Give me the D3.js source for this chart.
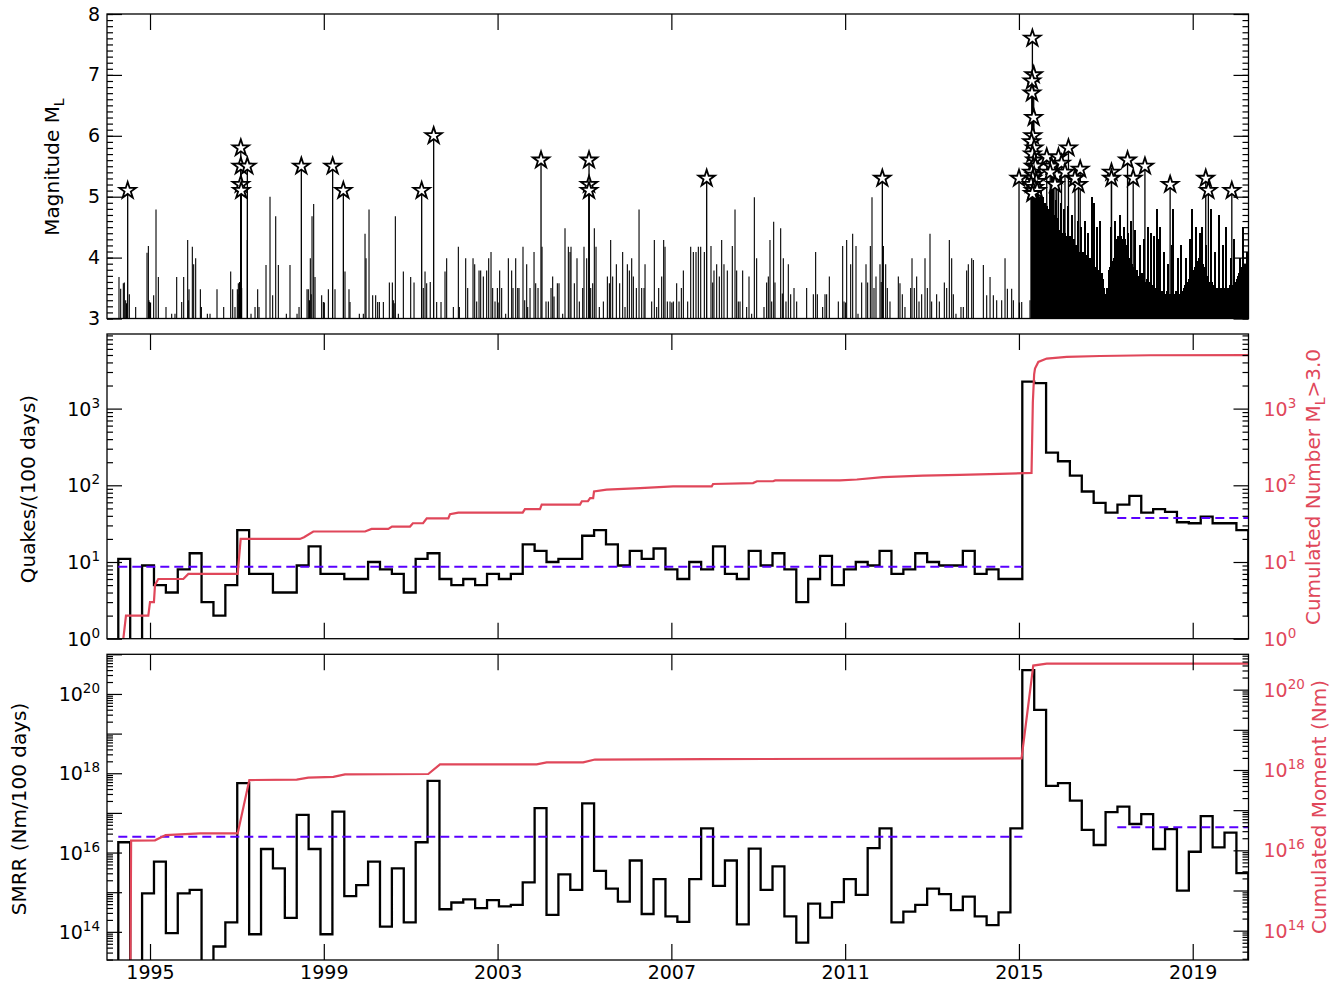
<!DOCTYPE html>
<html><head><meta charset="utf-8">
<script src="https://cdn.jsdelivr.net/npm/d3@7"></script>
<style>
body{margin:0;background:#fff;}
svg text{font-family:"DejaVu Sans",sans-serif;}
</style></head><body>
<svg id="chart" width="1344" height="986"></svg>
<script>
// ---------------- DATA ----------------
const xTickYears = [1995, 1999, 2003, 2007, 2011, 2015, 2019];
const magTicks = [3, 4, 5, 6, 7, 8];

// histogram: 100-day bins starting at binStart (decimal year)
const binStart = 1994.27;
const binDays = 100;
const quakesPerBin = [11,0,9,5,4,8,13,3,2,5,26,7,7,4,4,9,16,7,7,6,6,10,8,7,4,11,13,6,5,6,
  5,7,6,7,17,14,10,11,11,22,26,17,9,14,11,15,8,6,10,8,16,7,6,14,9,13,8,3,6,12,
  5,8,10,9,14,7,8,13,10,9,9,14,7,8,6,6,2250,2150,267,206,134,83,59,44,56,73,44,49,45,33,
  32,39,32,32,26,2];
// seismic moment release rate, log10(Nm / 100 days); null = no moment in bin
const smrrExp = [16.26,null,14.97,15.77,13.97,14.97,15.06,null,13.63,14.24,17.75,13.94,16.09,15.6,14.35,16.95,16.09,13.94,17.03,14.9,
  15.18,15.77,14.13,15.6,14.24,16.26,17.81,14.57,14.74,14.82,14.6,14.8,14.64,14.68,15.25,17.12,14.43,15.45,15.06,17.24,
  15.54,15.09,14.76,15.8,14.45,15.33,14.39,14.25,15.33,16.61,15.16,15.8,14.19,16.1,15.06,15.65,14.39,13.73,14.71,14.36,
  14.75,15.33,14.93,16.11,16.61,14.24,14.51,14.68,15.09,14.95,14.55,14.89,14.39,14.17,14.49,16.61,20.6,19.6,17.68,17.75,
  17.31,16.57,16.19,17.02,17.16,16.72,16.97,16.09,16.59,15.04,16.02,16.92,16.13,16.5,15.48,null];

// mean rate (dashed): [fromYear, toYear, value]
const meanQuakes = [[1994.27, 2015.078, 8.7], [2017.264, 2020.284, 37.5]];
const meanSmrrExp = [[1994.27, 2015.078, 16.4], [2017.264, 2020.284, 16.64]];

// cumulated number of events M_L>3.0: [year, count]
const cumNumber = [[1994.386,1],[1994.447,2],[1994.961,2],[1995.0,3],[1995.09,3],[1995.115,5],[1995.19,6],[1995.767,6],[1995.882,7],
  [1997.018,7],[1997.087,20],[1998.45,20],[1998.545,21],[1998.759,25],[1999.95,25],[2000.10,27],[2000.485,27],[2000.57,29],
  [2000.985,29],[2001.05,32],[2001.285,32],[2001.37,37],[2001.866,37],[2001.905,42],[2002.096,44],[2003.578,44],[2003.63,49],
  [2003.977,49],[2004.016,56],[2004.897,56],[2004.94,62],[2005.08,62],[2005.13,68],[2005.2,68],[2005.22,83],[2005.51,88],
  [2006.28,92],[2007.04,97],[2007.93,97],[2007.96,104],[2008.88,107],[2008.97,113],[2009.34,113],[2009.39,116],[2010.88,116],
  [2011.27,119],[2011.87,128],[2012.79,134],[2013.64,137],[2014.56,141],[2015.29,145],[2015.32,1200],[2015.35,2800],
  [2015.37,3320],[2015.446,4060],[2015.64,4490],[2016.10,4720],[2016.866,4850],[2018.017,4960],[2020.28,4990]];

// cumulated seismic moment, log10(Nm): [year, exponent]
const cumMomentExp = [[1994.55,13.0],[1994.565,16.24],[1995.115,16.25],[1995.36,16.38],[1996.15,16.42],[1997.018,16.42],
  [1997.286,17.75],[1998.377,17.76],[1998.643,17.81],[1999.22,17.83],[1999.488,17.89],[2001.405,17.9],[2001.675,18.14],
  [2003.9,18.14],[2004.13,18.19],[2004.97,18.19],[2005.24,18.26],[2007.81,18.27],[2011.65,18.28],[2013.64,18.285],
  [2015.06,18.29],[2015.33,20.6],[2015.64,20.65],[2020.28,20.65]];

// events M >= 5 (stars): [year, magnitude]
const largeEvents = [[1994.486,5.1],[1997.09,5.8],[1997.09,5.5],[1997.24,5.5],[1997.09,5.2],[1997.10,5.1],[1998.483,5.5],
  [1999.204,5.5],[1999.45,5.1],[2001.253,5.1],[2001.529,6.0],[2004.0,5.6],[2005.105,5.6],[2005.105,5.2],[2005.105,5.1],
  [2007.813,5.3],[2011.856,5.3],[2015.002,5.3],
  [2015.31,7.6],[2015.34,7.0],[2015.30,6.9],[2015.30,6.7],[2015.34,6.3],[2015.32,6.0],[2015.29,5.9],[2015.35,5.8],
  [2015.31,5.7],[2015.36,5.6],[2015.33,5.5],[2015.38,5.5],[2015.29,5.4],[2015.35,5.35],[2015.32,5.3],[2015.40,5.25],
  [2015.28,5.2],[2015.36,5.15],[2015.33,5.1],[2015.42,5.1],[2015.31,5.05],
  [2015.64,5.65],[2015.91,5.65],[2016.14,5.8],[2016.41,5.45],[2016.37,5.2],[2015.75,5.5],[2015.87,5.35],[2015.72,5.4],
  [2015.98,5.55],[2016.06,5.4],[2015.83,5.2],[2016.29,5.3],[2017.13,5.4],[2017.13,5.3],[2017.50,5.6],[2017.63,5.3],
  [2017.90,5.5],[2018.48,5.2],[2019.30,5.3],[2019.36,5.1],[2019.90,5.1]];

// smaller events before the 2015 sequence: [year, magnitude]
const smallEvents = [[1994.286,3.68],[1994.325,3.49],[1994.386,3.58],[1994.409,3.59],[1994.44,3.3],[1994.46,3.25],[1994.524,3.4],
  [1994.670,3.19],[1994.931,4.08],[1994.962,4.19],[1994.975,3.3],[1994.985,3.27],[1995.084,3.38],[1995.138,4.79],[1995.192,3.68],
  [1995.368,3.19],[1995.499,3.08],[1995.575,3.08],[1995.614,3.68],[1995.729,3.27],[1995.775,3.68],[1995.867,4.29],[1995.88,3.3],
  [1995.898,3.48],[1995.974,4.18],[1996.005,3.89],[1996.051,3.99],[1996.159,3.48],[1996.182,3.19],[1996.320,3.08],[1996.381,3.08],
  [1996.542,3.48],[1996.696,3.19],[1996.857,3.77],[1996.903,3.48],[1996.956,3.19],[1997.010,3.48],[1997.033,3.58],[1997.05,3.4],
  [1997.06,3.6],[1997.11,3.5],[1997.240,4.29],[1997.325,3.08],[1997.417,3.19],[1997.478,3.48],[1997.509,3.19],[1997.670,3.88],
  [1997.762,5.0],[1997.823,3.38],[1997.893,4.68],[1997.954,3.88],[1998.138,3.08],[1998.222,3.88],[1998.384,3.08],[1998.430,3.19],
  [1998.614,3.48],[1998.644,3.48],[1998.67,3.3],[1998.690,3.99],[1998.71,3.4],[1998.729,4.68],[1998.767,4.88],[1998.798,3.68],
  [1998.951,3.38],[1998.990,3.27],[1999.105,3.48],[1999.258,3.48],[1999.488,3.77],[1999.580,3.48],[1999.603,3.27],[1999.818,3.08],
  [1999.910,3.08],[1999.949,4.39],[1999.972,3.99],[2000.041,4.79],[2000.125,3.38],[2000.194,3.38],[2000.240,3.27],[2000.279,3.27],
  [2000.371,3.27],[2000.509,3.59],[2000.578,3.59],[2000.60,3.3],[2000.62,3.25],[2000.647,4.68],[2000.716,3.08],[2000.831,3.77],
  [2001.000,3.68],[2001.077,3.59],[2001.29,3.5],[2001.330,3.77],[2001.368,3.58],[2001.45,3.6],[2001.598,3.27],[2001.698,3.27],
  [2001.790,3.77],[2001.828,3.99],[2001.982,3.19],[2002.097,4.18],[2002.120,3.19],[2002.266,3.99],[2002.312,3.5],[2002.435,3.99],
  [2002.473,3.89],[2002.519,3.28],[2002.573,3.79],[2002.611,3.79],[2002.672,3.69],[2002.749,3.79],[2002.795,3.99],[2002.849,4.09],
  [2002.887,3.5],[2002.941,3.28],[2002.995,3.5],[2003.048,3.79],[2003.094,3.5],[2003.186,3.08],[2003.248,3.99],[2003.324,3.79],
  [2003.355,3.5],[2003.417,3.99],[2003.463,3.5],[2003.493,3.5],[2003.585,4.18],[2003.624,3.3],[2003.670,3.89],[2003.693,3.19],
  [2003.747,3.5],[2003.839,4.09],[2003.877,3.58],[2003.931,3.5],[2004.023,4.18],[2004.115,3.28],[2004.169,3.28],[2004.230,3.5],
  [2004.268,3.69],[2004.299,3.36],[2004.376,3.58],[2004.414,3.58],[2004.498,3.08],[2004.552,4.48],[2004.629,4.18],[2004.667,4.09],
  [2004.690,4.18],[2004.767,3.58],[2004.828,3.99],[2004.882,3.28],[2004.959,3.5],[2004.989,4.18],[2005.051,3.99],[2005.143,3.5],
  [2005.189,3.58],[2005.227,4.48],[2005.266,4.18],[2005.342,3.19],[2005.435,3.28],[2005.527,3.69],[2005.573,3.58],[2005.603,4.29],
  [2005.649,3.69],[2005.734,3.89],[2005.810,3.58],[2005.879,4.09],[2005.933,3.19],[2005.987,3.89],[2006.033,3.79],[2006.087,3.99],
  [2006.125,3.69],[2006.194,3.5],[2006.256,4.79],[2006.317,3.5],[2006.371,3.5],[2006.394,3.89],[2006.547,3.28],[2006.608,4.29],
  [2006.662,3.19],[2006.708,3.5],[2006.777,3.69],[2006.823,4.29],[2006.854,4.18],[2006.908,3.28],[2006.969,3.28],[2007.046,3.28],
  [2007.122,3.58],[2007.176,3.28],[2007.230,3.5],[2007.276,3.79],[2007.375,3.28],[2007.445,4.18],[2007.506,4.09],[2007.567,4.09],
  [2007.621,4.18],[2007.675,4.18],[2007.759,4.09],[2007.912,4.19],[2007.951,3.59],[2007.981,3.79],[2008.043,3.89],[2008.104,3.69],
  [2008.158,4.29],[2008.211,3.89],[2008.288,3.79],[2008.403,4.19],[2008.465,4.79],[2008.503,3.79],[2008.541,3.28],[2008.580,3.28],
  [2008.641,3.79],[2008.733,3.19],[2008.787,3.69],[2008.848,3.08],[2008.910,4.99],[2008.963,3.99],[2009.132,3.19],[2009.193,3.59],
  [2009.232,3.69],[2009.270,4.29],[2009.309,3.28],[2009.355,4.59],[2009.385,3.59],[2009.516,4.48],[2009.554,3.41],[2009.577,3.99],
  [2009.638,3.28],[2009.692,3.89],[2009.746,3.4],[2009.823,3.5],[2009.884,3.28],[2010.114,3.5],[2010.268,3.4],[2010.321,4.09],
  [2010.360,3.4],[2010.482,3.19],[2010.536,3.4],[2010.574,3.4],[2010.636,3.69],[2010.843,3.28],[2010.943,4.19],[2010.974,3.28],
  [2011.035,4.29],[2011.127,3.89],[2011.173,4.39],[2011.250,4.19],[2011.296,3.08],[2011.380,3.59],[2011.480,3.89],[2011.518,3.59],
  [2011.580,4.19],[2011.618,4.99],[2011.664,3.5],[2011.710,3.69],[2011.802,3.89],[2011.830,3.6],[2011.880,4.19],[2011.933,3.89],
  [2011.971,3.5],[2012.032,3.28],[2012.224,3.69],[2012.262,3.58],[2012.316,3.4],[2012.377,3.19],[2012.508,3.5],[2012.539,3.99],
  [2012.592,3.5],[2012.646,3.69],[2012.700,3.28],[2012.761,3.4],[2012.838,3.99],[2012.892,3.5],[2012.953,4.39],[2012.991,3.28],
  [2013.106,3.4],[2013.168,3.28],[2013.283,3.59],[2013.337,3.5],[2013.398,4.29],[2013.452,3.99],[2013.490,3.4],[2013.551,3.08],
  [2013.666,3.19],[2013.720,3.19],[2013.797,3.79],[2013.835,3.89],[2013.913,3.99],[2013.951,3.96],[2014.181,3.88],[2014.258,3.38],
  [2014.335,3.68],[2014.411,3.38],[2014.488,3.3],[2014.603,3.3],[2014.680,3.99],[2014.734,3.49],[2014.833,3.49],[2014.872,3.3],
  [2015.064,3.27],[2015.255,3.3]];

// 2015 aftershock sequence (dense): years and magnitudes
const aftershockYears = [2015.301,2015.324,2015.347,2015.370,2015.393,2015.416,2015.439,2015.462,2015.485,2015.508,
  2015.531,2015.554,2015.577,2015.600,2015.623,2015.646,2015.669,2015.692,2015.715,2015.738,2015.761,2015.784,2015.807,
  2015.830,2015.853,2015.876,2015.899,2015.922,2015.945,2015.968,2015.991,2016.014,2016.037,2016.060,2016.083,2016.106,
  2016.129,2016.152,2016.175,2016.198,2016.221,2016.244,2016.267,2016.290,2016.313,2016.336,2016.359,2016.382,2016.405,
  2016.428,2016.451,2016.474,2016.497,2016.520,2016.543,2016.566,2016.589,2016.612,2016.635,2016.658,2016.681,2016.704,
  2016.727,2016.750,2016.773,2016.796,2016.819,2016.842,2016.865,2016.888,2016.911,2016.934,2016.957,2016.980,2017.003,
  2017.026,2017.049,2017.072,2017.095,2017.118,2017.141,2017.164,2017.187,2017.210,2017.233,2017.256,2017.279,2017.302,
  2017.325,2017.348,2017.371,2017.394,2017.417,2017.440,2017.463,2017.486,2017.509,2017.532,2017.555,2017.578,2017.601,
  2017.624,2017.647,2017.670,2017.693,2017.716,2017.739,2017.762,2017.785,2017.808,2017.831,2017.854,2017.877,2017.900,
  2017.923,2017.946,2017.969,2017.992,2018.015,2018.038,2018.061,2018.084,2018.107,2018.130,2018.153,2018.176,2018.199,
  2018.222,2018.245,2018.268,2018.291,2018.314,2018.337,2018.360,2018.383,2018.406,2018.429,2018.452,2018.475,2018.498,
  2018.521,2018.544,2018.567,2018.590,2018.613,2018.636,2018.659,2018.682,2018.705,2018.728,2018.751,2018.774,2018.797,
  2018.820,2018.843,2018.866,2018.889,2018.912,2018.935,2018.958,2018.981,2019.004,2019.027,2019.050,2019.073,2019.096,
  2019.119,2019.142,2019.165,2019.188,2019.211,2019.234,2019.257,2019.280,2019.303,2019.326,2019.349,2019.372,2019.395,
  2019.418,2019.441,2019.464,2019.487,2019.510,2019.533,2019.556,2019.579,2019.602,2019.625,2019.648,2019.671,2019.694,
  2019.717,2019.740,2019.763,2019.786,2019.809,2019.832,2019.855,2019.878,2019.901,2019.924,2019.947,2019.970,2019.993,
  2020.016,2020.039,2020.062,2020.085,2020.108,2020.131,2020.154,2020.177,2020.200,2020.223,2020.246,2020.269];
const aftershockMags = [5.1,5.2,5.0,5.1,5.2,5.0,5.1,4.9,5.0,5.1,4.9,5.0,
  4.8,4.9,4.7,4.85,4.8,
  4.6,5.1,4.65,4.6,5.2,4.7,4.6,4.95,4.65,4.6,
  4.45,4.4,4.9,4.4,4.35,4.8,4.4,4.35,4.3,4.85,4.3,4.35,4.3,4.7,4.25,4.3,4.2,
  4.15,4.2,4.6,4.1,4.1,4.5,4.05,4.1,4.0,4.6,4.05,4.0,4.4,3.95,4.0,3.95,5.0,
  3.9,4.9,3.85,3.8,4.5,3.8,3.75,4.6,3.7,3.75,3.65,
  3.5,3.4,3.35,3.5,3.45,
  3.8,3.85,4.5,3.9,3.95,4.0,4.6,4.15,4.3,4.35,4.3,4.7,4.35,4.3,4.25,4.5,4.3,4.2,4.1,4.4,4.0,3.95,4.6,3.9,3.85,3.8,4.45,3.75,3.8,
  3.7,3.65,4.2,3.7,3.75,3.6,4.3,3.6,3.55,3.65,4.5,3.6,3.5,4.4,3.55,3.5,4.35,3.5,3.45,4.8,
  3.45,4.3,4.5,3.4,3.45,3.4,4.1,3.35,3.4,3.45,3.9,3.4,3.35,3.4,4.2,4.8,3.4,3.35,3.45,3.4,4.0,3.4,3.35,4.2,3.4,3.45,
  3.5,3.55,4.0,3.5,3.6,3.65,4.3,3.7,4.8,3.75,3.8,3.85,4.5,3.9,3.95,4.0,4.4,3.95,4.5,3.9,3.85,3.8,4.2,3.7,3.6,3.55,3.6,
  4.8,3.6,3.55,3.5,4.1,3.5,3.45,3.5,4.7,3.5,3.45,3.5,4.2,3.5,3.45,4.5,3.5,3.45,3.5,3.55,4.0,3.5,3.55,4.3,3.5,3.6,3.65,
  3.7,3.75,4.0,3.8,3.85,4.5,3.9,3.85,3.9,4.1,3.9];

// ---------------- LAYOUT ----------------
const RED = '#e0475a', BLUE = '#5a00ff';
const L = 107, R = 1248.5;
const P = { top: [14, 318.5], mid: [334, 638.7], bot: [654.3, 960] };
const FS = 19;

const x = d3.scaleLinear().domain([1994.01, 2020.284]).range([L, R]);
const yMag = d3.scaleLinear().domain([3, 8]).range([P.top[1], P.top[0]]);
const yQ = d3.scaleLog().domain([1, 9390]).range([P.mid[1], P.mid[0]]);
const ySm = d3.scaleLog().domain([Math.pow(10, 13.29), 1e21]).range([P.bot[1], P.bot[0]]);
const yCm = d3.scaleLog().domain([Math.pow(10, 13.27), Math.pow(10, 20.88)]).range([P.bot[1], P.bot[0]]);

const svg = d3.select('#chart');
const defs = svg.append('defs');
function clip(id, p) {
  defs.append('clipPath').attr('id', id).append('rect')
    .attr('x', L).attr('y', p[0]).attr('width', R - L).attr('height', p[1] - p[0]);
}
clip('cTop', P.top); clip('cMid', P.mid); clip('cBot', P.bot);

// ---------------- TOP PANEL ----------------
const gTop = svg.append('g').attr('clip-path', 'url(#cTop)');
const afterEvents = aftershockYears.slice(0, aftershockMags.length).map((t, i) => [t, aftershockMags[i]]);
gTop.selectAll('line.sm').data(smallEvents).join('line').attr('class', 'sm')
  .attr('x1', d => x(d[0])).attr('x2', d => x(d[0]))
  .attr('y1', yMag(3)).attr('y2', d => yMag(d[1]))
  .attr('stroke', '#000').attr('stroke-width', 1.1);
gTop.selectAll('line.af').data(afterEvents).join('line').attr('class', 'af')
  .attr('x1', d => x(d[0])).attr('x2', d => x(d[0]))
  .attr('y1', yMag(3)).attr('y2', d => yMag(d[1]))
  .attr('stroke', '#000').attr('stroke-width', 1.6).attr('shape-rendering', 'crispEdges');
gTop.selectAll('line.lg').data(largeEvents).join('line').attr('class', 'lg')
  .attr('x1', d => x(d[0])).attr('x2', d => x(d[0]))
  .attr('y1', yMag(3)).attr('y2', d => yMag(d[1]))
  .attr('stroke', '#000').attr('stroke-width', 1.3);
const star = d3.symbol().type(d3.symbolStar).size(84);
svg.append('g').selectAll('path').data(largeEvents).join('path')
  .attr('d', star)
  .attr('transform', d => `translate(${x(d[0])},${yMag(d[1])})`)
  .attr('fill', '#fff').attr('stroke', '#000').attr('stroke-width', 1.8);

// ---------------- MIDDLE PANEL ----------------
const binW = binDays / 365.25;
function stepPoints(vals) {
  const pts = [[binStart, null]];
  vals.forEach((v, i) => pts.push([binStart + i * binW, v]));
  pts.push([binStart + vals.length * binW, vals[vals.length - 1]]);
  return pts;
}
const gMid = svg.append('g').attr('clip-path', 'url(#cMid)');
const qy = v => (v && v > 0) ? yQ(v) : P.mid[1] + 20;
gMid.append('path').datum(stepPoints(quakesPerBin))
  .attr('d', d3.line().x(d => x(d[0])).y(d => qy(d[1])).curve(d3.curveStepAfter))
  .attr('fill', 'none').attr('stroke', '#000').attr('stroke-width', 2.3);
gMid.selectAll('line.mean').data(meanQuakes).join('line').attr('class', 'mean')
  .attr('x1', d => x(d[0])).attr('x2', d => x(d[1]))
  .attr('y1', d => yQ(d[2])).attr('y2', d => yQ(d[2]))
  .attr('stroke', BLUE).attr('stroke-width', 2).attr('stroke-dasharray', '9,5');
gMid.append('path').datum(cumNumber)
  .attr('d', d3.line().x(d => x(d[0])).y(d => yQ(d[1])))
  .attr('fill', 'none').attr('stroke', RED).attr('stroke-width', 2.2);

// ---------------- BOTTOM PANEL ----------------
const gBot = svg.append('g').attr('clip-path', 'url(#cBot)');
const sy = e => (e !== null && e !== undefined) ? ySm(Math.pow(10, e)) : P.bot[1] + 20;
gBot.append('path').datum(stepPoints(smrrExp))
  .attr('d', d3.line().x(d => x(d[0])).y(d => sy(d[1])).curve(d3.curveStepAfter))
  .attr('fill', 'none').attr('stroke', '#000').attr('stroke-width', 2.3);
gBot.selectAll('line.mean').data(meanSmrrExp).join('line').attr('class', 'mean')
  .attr('x1', d => x(d[0])).attr('x2', d => x(d[1]))
  .attr('y1', d => ySm(Math.pow(10, d[2]))).attr('y2', d => ySm(Math.pow(10, d[2])))
  .attr('stroke', BLUE).attr('stroke-width', 2).attr('stroke-dasharray', '9,5');
gBot.append('path').datum(cumMomentExp)
  .attr('d', d3.line().x(d => x(d[0])).y(d => yCm(Math.pow(10, d[1]))))
  .attr('fill', 'none').attr('stroke', RED).attr('stroke-width', 2.2);

// ---------------- AXES ----------------
function styleAxis(g) {
  g.select('.domain').remove();
  g.attr('font-size', FS).attr('font-family', '"DejaVu Sans", sans-serif');
  g.selectAll('line').attr('stroke', '#000').attr('stroke-width', 1.2);
  g.selectAll('text').attr('fill', '#000');
}
function logTicks(scale) {
  const [a, b] = scale.domain().map(Math.log10);
  const major = [], minor = [];
  for (let e = Math.floor(a); e <= Math.ceil(b); e++) {
    if (e >= a - 1e-9 && e <= b + 1e-9) major.push(e);
    for (let k = 2; k < 10; k++) {
      const le = e + Math.log10(k);
      if (le >= a && le <= b) minor.push(k * Math.pow(10, e));
    }
  }
  return { major, minor };
}
function yAxisPair(scale, majorVals, minorVals, labels) {
  svg.append('g').attr('transform', `translate(${L},0)`)
    .call(d3.axisLeft(scale).tickValues(majorVals).tickSizeInner(-15).tickSizeOuter(0).tickPadding(7)
      .tickFormat(labels ? d3.format('d') : ''))
    .call(styleAxis);
  svg.append('g').attr('transform', `translate(${L},0)`)
    .call(d3.axisLeft(scale).tickValues(minorVals).tickSizeInner(-6).tickSizeOuter(0).tickFormat(''))
    .call(styleAxis);
}
function yAxisRight(scale, majorVals, minorVals) {
  svg.append('g').attr('transform', `translate(${R},0)`)
    .call(d3.axisRight(scale).tickValues(majorVals).tickSizeInner(-15).tickSizeOuter(0).tickFormat(''))
    .call(styleAxis);
  svg.append('g').attr('transform', `translate(${R},0)`)
    .call(d3.axisRight(scale).tickValues(minorVals).tickSizeInner(-6).tickSizeOuter(0).tickFormat(''))
    .call(styleAxis);
}
function xAxes(p, labels) {
  svg.append('g').attr('transform', `translate(0,${p[0]})`)
    .call(d3.axisTop(x).tickValues(xTickYears).tickSizeInner(-16).tickSizeOuter(0).tickFormat(''))
    .call(styleAxis);
  svg.append('g').attr('transform', `translate(0,${p[1]})`)
    .call(d3.axisBottom(x).tickValues(xTickYears).tickSizeInner(-16).tickSizeOuter(0).tickPadding(6)
      .tickFormat(labels ? d3.format('d') : ''))
    .call(styleAxis);
}
function powLabels(scale, exps, xPos, anchor, color) {
  const g = svg.append('g');
  exps.forEach(e => {
    const t = g.append('text').attr('x', xPos).attr('y', scale(Math.pow(10, e)) + 7)
      .attr('text-anchor', anchor).attr('fill', color).attr('font-size', FS);
    t.append('tspan').text('10');
    t.append('tspan').attr('dy', -8).attr('font-size', 13.5).text(String(e));
  });
}

// top panel axes
const magMinor = d3.range(30, 81).map(v => v / 10);
yAxisPair(yMag, magTicks, magMinor, true);
yAxisRight(yMag, magTicks, magMinor);
xAxes(P.top, false);

// middle panel axes
const tq = logTicks(yQ);
yAxisPair(yQ, tq.major.map(e => Math.pow(10, e)), tq.minor, false);
yAxisRight(yQ, tq.major.map(e => Math.pow(10, e)), tq.minor);
xAxes(P.mid, false);
powLabels(yQ, [0, 1, 2, 3], L - 7, 'end', '#000');
powLabels(yQ, [0, 1, 2, 3], R + 15, 'start', RED);

// bottom panel axes
const ts = logTicks(ySm), tc = logTicks(yCm);
yAxisPair(ySm, ts.major.map(e => Math.pow(10, e)), ts.minor, false);
yAxisRight(yCm, tc.major.map(e => Math.pow(10, e)), tc.minor);
xAxes(P.bot, true);
powLabels(ySm, [14, 16, 18, 20], L - 7, 'end', '#000');
powLabels(yCm, [14, 16, 18, 20], R + 15, 'start', RED);

// frames
Object.values(P).forEach(p => {
  svg.append('rect').attr('x', L).attr('y', p[0]).attr('width', R - L).attr('height', p[1] - p[0])
    .attr('fill', 'none').attr('stroke', '#000').attr('stroke-width', 1.3);
});

// axis titles
function vTitle(cx, cy, parts, color) {
  const t = svg.append('text').attr('transform', `translate(${cx},${cy}) rotate(-90)`)
    .attr('text-anchor', 'middle').attr('font-size', 20).attr('fill', color);
  parts.forEach(p => {
    const s = t.append('tspan').text(p.t);
    if (p.sub) s.attr('font-size', 14).attr('dy', 5);
    if (p.after) s.attr('dy', -5);
  });
}
vTitle(59, 167, [{ t: 'Magnitude M' }, { t: 'L', sub: true }], '#000');
vTitle(35, 489, [{ t: 'Quakes/(100 days)' }], '#000');
vTitle(26, 809, [{ t: 'SMRR (Nm/100 days)' }], '#000');
vTitle(1320, 487, [{ t: 'Cumulated Number M' }, { t: 'L', sub: true }, { t: '>3.0', after: true }], RED);
vTitle(1326, 807, [{ t: 'Cumulated Moment (Nm)' }], RED);
</script>
</body></html>
